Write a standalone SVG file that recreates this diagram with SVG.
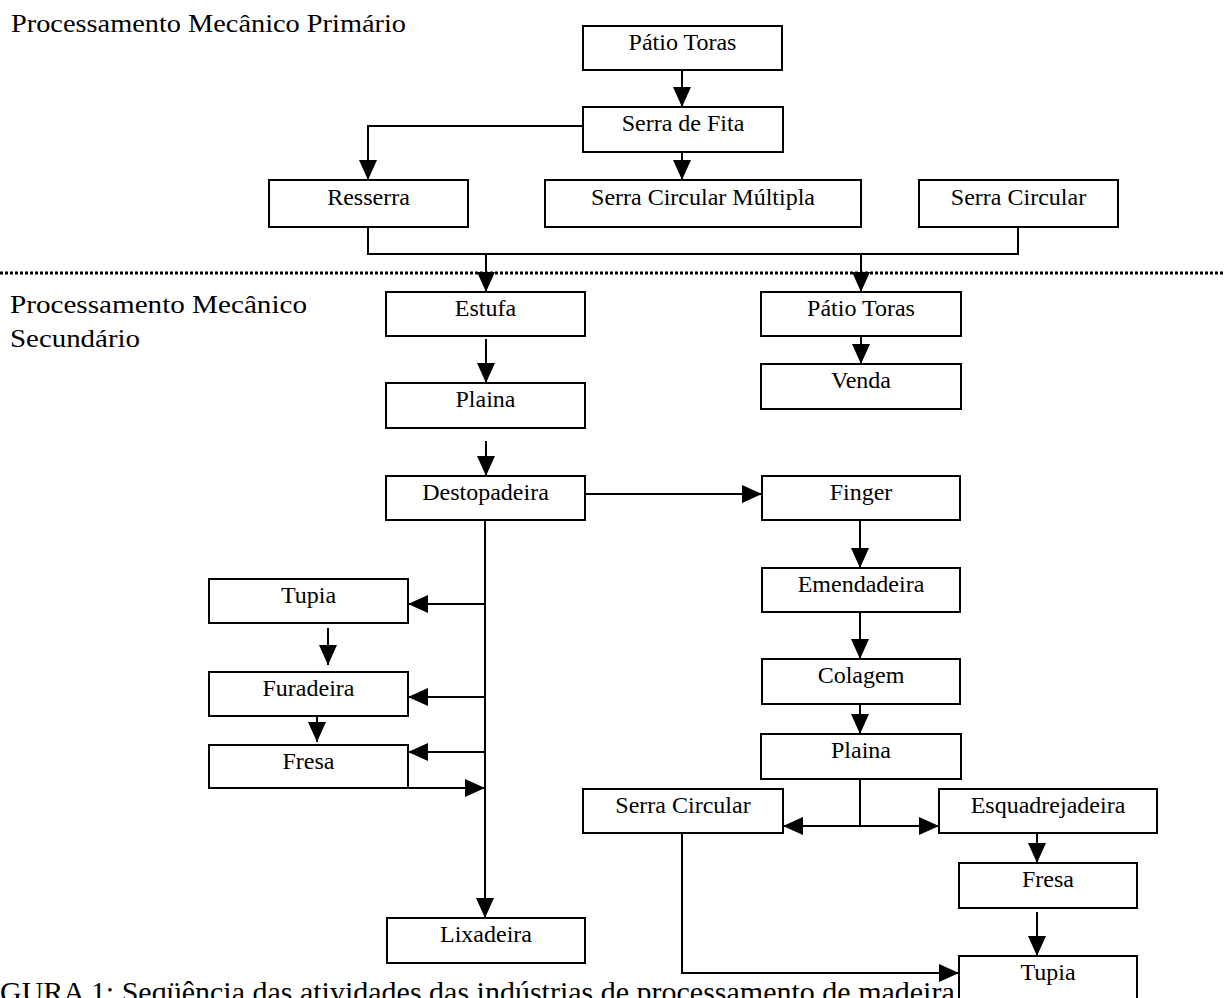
<svg xmlns="http://www.w3.org/2000/svg" width="1225" height="998" viewBox="0 0 1225 998">
<style>
.box{fill:#fff;stroke:#000;stroke-width:2}
.lbl{font-family:"Liberation Serif","Times New Roman",serif;font-size:24px;text-anchor:middle;fill:#000}
.ttl{font-family:"Liberation Serif","Times New Roman",serif;font-size:26px;fill:#000}
.ln{fill:none;stroke:#000;stroke-width:2}
.arr{fill:none;stroke:#000;stroke-width:2;marker-end:url(#ah)}
</style>
<defs>
<marker id="ah" markerUnits="userSpaceOnUse" markerWidth="20" markerHeight="18" refX="20" refY="9" orient="auto">
<path d="M0,0 L20,9 L0,18 z" fill="#000"/>
</marker>
</defs>
<rect width="1225" height="998" fill="#fff"/>
<text class="ttl" x="11" y="32" textLength="395" lengthAdjust="spacingAndGlyphs">Processamento Mecânico Primário</text>
<text class="ttl" x="10" y="313" textLength="297" lengthAdjust="spacingAndGlyphs">Processamento Mecânico</text>
<text class="ttl" x="10" y="347" textLength="130" lengthAdjust="spacingAndGlyphs">Secundário</text>
<line x1="0" y1="273" x2="1225" y2="273" stroke="#000" stroke-width="3" stroke-dasharray="3,2"/>
<text class="ttl" x="0" y="1002" style="font-size:30px">GURA 1: Seqüência das atividades das indústrias de processamento de madeira</text>

<g id="connectors">
<path class="arr" d="M682,70 V107"/>
<path class="arr" d="M682,147 V180"/>
<path class="arr" d="M583,126 H368 V180"/>
<path class="ln" d="M368,227 V254 H1018 V227"/>
<path class="arr" d="M486,254 V292"/>
<path class="arr" d="M861,254 V292"/>
<path class="arr" d="M861,331 V364"/>
<path class="arr" d="M486,339 V383"/>
<path class="arr" d="M486,441 V476"/>
<path class="arr" d="M585,494 H762"/>
<path class="arr" d="M485,520 V918"/>
<path class="arr" d="M485,604 H408"/>
<path class="arr" d="M485,697 H408"/>
<path class="arr" d="M485,752 H408"/>
<path class="arr" d="M408,788 H485"/>
<path class="arr" d="M328,628 V665"/>
<path class="arr" d="M317,716 V742"/>
<path class="arr" d="M860,520 V568"/>
<path class="arr" d="M860,612 V659"/>
<path class="arr" d="M860,697 V734"/>
<path class="ln" d="M860,779 V826"/>
<path class="arr" d="M860,826 H783"/>
<path class="arr" d="M860,826 H939"/>
<path class="arr" d="M1037,831 V863"/>
<path class="arr" d="M1037,912 V956"/>
<path class="arr" d="M682,833 V973 H959"/>
</g>

<g id="patio-toras-1"><rect class="box" x="583" y="26" width="199" height="44"/><text class="lbl" x="682.5" y="50">Pátio Toras</text></g>
<g id="serra-de-fita"><rect class="box" x="583" y="107" width="200" height="45"/><text class="lbl" x="683" y="131">Serra de Fita</text></g>
<g id="resserra"><rect class="box" x="269" y="180" width="199" height="47"/><text class="lbl" x="368.5" y="205">Resserra</text></g>
<g id="serra-circular-multipla"><rect class="box" x="545" y="180" width="316" height="47"/><text class="lbl" x="703" y="205">Serra Circular Múltipla</text></g>
<g id="serra-circular-1"><rect class="box" x="919" y="180" width="199" height="47"/><text class="lbl" x="1018.5" y="205">Serra Circular</text></g>
<g id="estufa"><rect class="box" x="386" y="292" width="199" height="44"/><text class="lbl" x="485.5" y="316">Estufa</text></g>
<g id="patio-toras-2"><rect class="box" x="761" y="292" width="200" height="44"/><text class="lbl" x="861" y="316">Pátio Toras</text></g>
<g id="venda"><rect class="box" x="761" y="364" width="200" height="45"/><text class="lbl" x="861" y="388">Venda</text></g>
<g id="plaina-1"><rect class="box" x="386" y="383" width="199" height="45"/><text class="lbl" x="485.5" y="407">Plaina</text></g>
<g id="destopadeira"><rect class="box" x="386" y="476" width="199" height="44"/><text class="lbl" x="485.5" y="500">Destopadeira</text></g>
<g id="finger"><rect class="box" x="762" y="476" width="198" height="44"/><text class="lbl" x="861" y="500">Finger</text></g>
<g id="tupia-1"><rect class="box" x="209" y="579" width="199" height="44"/><text class="lbl" x="308.5" y="603">Tupia</text></g>
<g id="furadeira"><rect class="box" x="209" y="672" width="199" height="44"/><text class="lbl" x="308.5" y="696">Furadeira</text></g>
<g id="fresa-1"><rect class="box" x="209" y="745" width="199" height="43"/><text class="lbl" x="308.5" y="769">Fresa</text></g>
<g id="lixadeira"><rect class="box" x="387" y="918" width="198" height="45"/><text class="lbl" x="486" y="942">Lixadeira</text></g>
<g id="emendadeira"><rect class="box" x="762" y="568" width="198" height="44"/><text class="lbl" x="861" y="592">Emendadeira</text></g>
<g id="colagem"><rect class="box" x="762" y="659" width="198" height="45"/><text class="lbl" x="861" y="683">Colagem</text></g>
<g id="plaina-2"><rect class="box" x="761" y="734" width="200" height="45"/><text class="lbl" x="861" y="758">Plaina</text></g>
<g id="serra-circular-2"><rect class="box" x="583" y="789" width="200" height="44"/><text class="lbl" x="683" y="813">Serra Circular</text></g>
<g id="esquadrejadeira"><rect class="box" x="939" y="789" width="218" height="44"/><text class="lbl" x="1048" y="813">Esquadrejadeira</text></g>
<g id="fresa-2"><rect class="box" x="959" y="863" width="178" height="45"/><text class="lbl" x="1048" y="887">Fresa</text></g>
<g id="tupia-2"><rect class="box" x="959" y="956" width="178" height="60"/><text class="lbl" x="1048" y="980">Tupia</text></g>
</svg>
